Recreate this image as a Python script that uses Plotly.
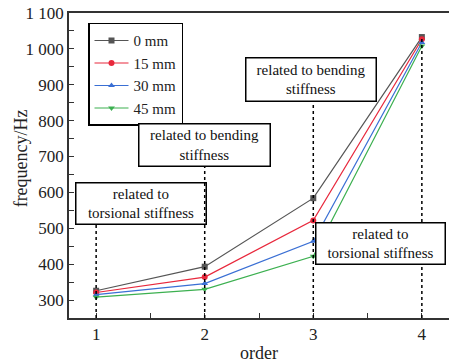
import plotly.graph_objects as go

orders = [1, 2, 3, 4]
series_names = ["0 mm", "15 mm", "30 mm", "45 mm"]
freq_0mm = [326, 393, 584, 1033]
freq_15mm = [321, 364, 522, 1027]
freq_30mm = [315, 346, 464, 1018]
freq_45mm = [308, 330, 422, 1008]
series_values = [freq_0mm, freq_15mm, freq_30mm, freq_45mm]
colors = ["#555555", "#e8283c", "#3a6fd4", "#3cb050"]
symbols = ["square", "circle", "triangle-up", "triangle-down"]

y_tickvals = [300, 400, 500, 600, 700, 800, 900, 1000, 1100]
y_ticktext = ["300", "400", "500", "600", "700", "800", "900", "1 000", "1 100"]
x_tickvals = [1, 2, 3, 4]

# annotation boxes: (x, y, text, width, height)
notes = [
    (1.415, 570, "related to<br>torsional stiffness", 125, 36),
    (2.0, 733, "related to bending<br>stiffness", 126, 37),
    (2.98, 915, "related to bending<br>stiffness", 125, 38),
    (3.62, 457, "related to<br>torsional stiffness", 124, 36),
]
# dotted guide lines: (x, y_top)
guides = [(1, 512), (2, 672), (3, 854), (4, 1034)]

FONT = "Times New Roman, Liberation Serif, serif"
fig = go.Figure()

for gx, gtop in guides:
    fig.add_shape(type="line", x0=gx, x1=gx, y0=250, y1=gtop, xref="x", yref="y",
                  line=dict(color="black", width=1.5, dash="dot"), layer="above")

for name, vals, c, s in zip(series_names, series_values, colors, symbols):
    fig.add_trace(go.Scatter(x=orders, y=vals, name=name, mode="lines+markers",
                             line=dict(color=c, width=1.2),
                             marker=dict(symbol=s, size=6, color=c)))

for i, (nx, ny, txt, w, h) in enumerate(notes):
    fig.add_annotation(x=nx, y=ny, xref="x", yref="y", text=txt, showarrow=False,
                       width=w, height=h, borderpad=2,
                       bordercolor="black", borderwidth=1.5,
                       bgcolor="rgba(0,0,0,0)" if i == 0 else "white",
                       font=dict(family=FONT, size=15, color="#111"))

# y-axis title placed as rotated text
fig.add_annotation(x=-0.124, y=0.523, xref="paper", yref="paper", text="frequency/Hz",
                   textangle=-90, showarrow=False, xanchor="center", yanchor="middle",
                   font=dict(family=FONT, size=18, color="#222"))

fig.update_layout(
    width=449, height=363,
    margin=dict(l=69, r=0, t=13, b=42),
    plot_bgcolor="white", paper_bgcolor="white",
    font=dict(family=FONT, size=16, color="#222"),
    showlegend=True,
    legend=dict(x=0.05, y=0.968, xanchor="left", yanchor="top",
                bordercolor="black", borderwidth=1.5, bgcolor="white",
                font=dict(family=FONT, size=15, color="#222"),
                itemwidth=34, tracegroupgap=0),
    xaxis=dict(range=[0.75, 4.25], tickvals=x_tickvals, ticks="inside", ticklen=5,
               tickwidth=1, tickcolor="#333",
               minor=dict(dtick=0.5, tick0=0.5, ticks="inside", ticklen=5, tickcolor="#333"),
               showline=True, linecolor="#333", linewidth=1.5, mirror=True,
               showgrid=False, zeroline=False,
               title=dict(text="order", font=dict(family=FONT, size=18), standoff=6),
               tickfont=dict(family=FONT, size=17)),
    yaxis=dict(range=[250, 1100], tickvals=y_tickvals, ticktext=y_ticktext,
               ticks="inside", ticklen=5, tickwidth=1, tickcolor="#333",
               minor=dict(dtick=50, tick0=250, ticks="inside", ticklen=5, tickcolor="#333"),
               showline=True, linecolor="#333", linewidth=1.5, mirror=False,
               showgrid=False, zeroline=False,
               tickfont=dict(family=FONT, size=17)),
)

fig.write_html("out.html")
